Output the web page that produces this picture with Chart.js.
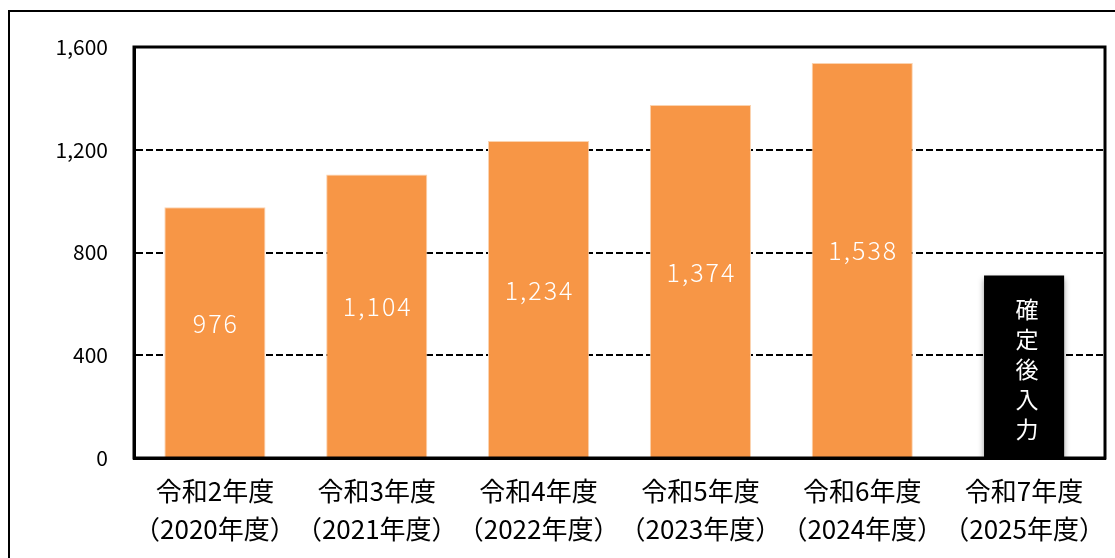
<!DOCTYPE html>
<html>
<head>
<meta charset="utf-8">
<script src="https://cdn.jsdelivr.net/npm/chart.js@4"></script>
<style>
html,body{margin:0;padding:0;background:#fff;}
#wrap{position:relative;width:1115px;height:558px;}
</style>
</head>
<body>
<div id="wrap"><canvas id="c" width="1115" height="558"></canvas></div>
<script>
const categories = [
  ['令和2年度','（2020年度）'],
  ['令和3年度','（2021年度）'],
  ['令和4年度','（2022年度）'],
  ['令和5年度','（2023年度）'],
  ['令和6年度','（2024年度）'],
  ['令和7年度','（2025年度）']
];
const values = [976, 1104, 1234, 1374, 1538, null];
const pendingBox = [null, null, null, null, null, 710];
const pendingText = '確定後入力';
const yTicks = [0, 400, 800, 1200, 1600];

const FONT = '"Noto Sans CJK JP", "Noto Sans", sans-serif';

const framePlugin = {
  id: 'frame',
  beforeDraw(chart) {
    const ctx = chart.ctx;
    ctx.save();
    ctx.fillStyle = '#fff';
    ctx.fillRect(0, 0, chart.width, chart.height);
    ctx.strokeStyle = '#000';
    ctx.lineWidth = 2;
    ctx.strokeRect(9, 11, 3000, 3000);
    ctx.restore();
  },
  beforeDatasetDraw(chart, args) {
    if (args.index === 1) {
      const ctx = chart.ctx;
      ctx.save();
      ctx.shadowColor = 'rgba(0,0,0,0.4)';
      ctx.shadowBlur = 6;
      ctx.shadowOffsetY = 3;
    }
  },
  afterDatasetDraw(chart, args) {
    if (args.index === 1) chart.ctx.restore();
  },
  afterDatasetsDraw(chart) {
    const ctx = chart.ctx;
    const a = chart.chartArea;
    ctx.save();
    // value labels
    const meta0 = chart.getDatasetMeta(0);
    ctx.fillStyle = '#fff';
    ctx.font = '300 25px ' + FONT;
    ctx.textAlign = 'center';
    ctx.textBaseline = 'middle';
    if ('letterSpacing' in ctx) ctx.letterSpacing = '2px';
    meta0.data.forEach((bar, i) => {
      const v = values[i];
      if (v == null) return;
      const y = (bar.y + bar.base) / 2 - 9;
      ctx.fillText(v.toLocaleString('en-US'), bar.x + 1, y);
    });
    if ('letterSpacing' in ctx) ctx.letterSpacing = '0px';
    // pending box text
    const meta1 = chart.getDatasetMeta(1);
    ctx.font = '23px ' + FONT;
    meta1.data.forEach((bar, i) => {
      if (pendingBox[i] == null) return;
      const chars = Array.from(pendingText);
      const step = 30;
      const cy = (bar.y + bar.base) / 2 + 3;
      const start = cy - step * (chars.length - 1) / 2;
      chars.forEach((ch, k) => ctx.fillText(ch, bar.x + 3, start + k * step));
    });
    // plot frame
    ctx.strokeStyle = '#000';
    ctx.lineWidth = 3;
    ctx.strokeRect(a.left, a.top, a.right - a.left, a.bottom - a.top);
    ctx.restore();
  }
};

new Chart(document.getElementById('c'), {
  type: 'bar',
  data: {
    labels: categories,
    datasets: [
      {
        data: values,
        backgroundColor: '#F79646',
        borderColor: '#FBD3B0',
        borderWidth: 1,
        barPercentage: 0.625,
        categoryPercentage: 1,
        grouped: false
      },
      {
        data: pendingBox,
        backgroundColor: '#000',
        borderWidth: 0,
        barPercentage: 0.495,
        categoryPercentage: 1,
        grouped: false
      }
    ]
  },
  options: {
    responsive: false,
    animation: false,
    events: [],
    layout: { padding: { top: 47, right: 10, left: 0, bottom: 0 } },
    plugins: { legend: { display: false }, tooltip: { enabled: false } },
    scales: {
      x: {
        grid: { display: false, drawTicks: false },
        border: { display: true, color: '#000', width: 3 },
        ticks: {
          color: '#000',
          font: { family: FONT, size: 26, lineHeight: 1.46 },
          padding: 14,
          maxRotation: 0,
          autoSkip: false
        },
        afterFit(scale) {
          scale.height = 100;
          scale.paddingLeft = 0;
          scale.paddingRight = 0;
        }
      },
      y: {
        min: 0,
        max: 1600,
        afterBuildTicks(scale) { scale.ticks = yTicks.map(v => ({ value: v })); },
        grid: { color: '#000', lineWidth: 2, drawTicks: false },
        border: { display: true, color: '#000', width: 3, dash: [7, 3] },
        ticks: {
          color: '#000',
          font: { family: FONT, size: 21 },
          padding: 26,
          callback: v => v.toLocaleString('en-US')
        },
        afterFit(scale) {
          scale.width = 134;
          scale.paddingTop = 0;
          scale.paddingBottom = 0;
        }
      }
    }
  },
  plugins: [framePlugin]
});
</script>
</body>
</html>
